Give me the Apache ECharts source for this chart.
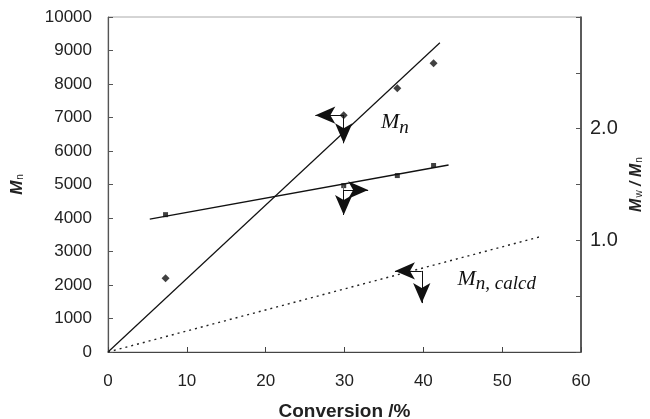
<!DOCTYPE html>
<html>
<head>
<meta charset="utf-8">
<script src="https://cdn.jsdelivr.net/npm/echarts@6/dist/echarts.min.js"></script>
<style>
  html, body { margin: 0; padding: 0; background: #fff; }
  #main { width: 650px; height: 419px; }
</style>
</head>
<body>
<div id="main"></div>
<script>
  // conversion (%) of the samples
  var conversion = [7.3, 29.9, 36.7, 41.3];
  // measured Mn (left axis)
  var mnValues = [2200, 7070, 7870, 8620];
  // measured Mw/Mn (right axis)
  var pdiValues = [1.23, 1.49, 1.58, 1.67];
  // fitted lines, endpoints [conversion, value]
  var mnFit = [[0, 0], [42.1, 9230]];
  var pdiFit = [[5.3, 1.19], [43.2, 1.675]];
  var mnCalcd = [[0, 0], [54.8, 3440]];
  var rightLabels = [1, 2];

  // annotation arrows, data coords: [from, to, hasHead]
  var mnArrows = [
    [[29.9, 7070], [26.3, 7070], true],
    [[29.9, 7070], [29.9, 6230], true]
  ];
  var pdiArrows = [
    [[29.9, 1.49], [29.9, 1.451], false],
    [[29.9, 1.451], [33.0, 1.451], true],
    [[29.9, 1.451], [29.9, 1.227], true]
  ];
  var calcdArrows = [
    [[39.8, 2420], [36.4, 2420], true],
    [[39.8, 2420], [39.8, 1460], true]
  ];

  function toMarkLines(list, connColor, connType) {
    return list.map(function (a) {
      return [
        {
          coord: a[0], symbol: 'none',
          lineStyle: a[2] ? { color: '#111', width: 1, type: 'solid' }
                          : { color: connColor, width: 1, type: connType }
        },
        { coord: a[1], symbol: a[2] ? 'arrow' : 'none' }
      ];
    });
  }

  var chartDom = document.getElementById('main');
  var myChart = echarts.init(chartDom);
  var labelFont = 'Liberation Sans, Arial, sans-serif';
  var serif = 'Liberation Serif, Times New Roman, serif';

  var arrowLine = {
    silent: true,
    animation: false,
    symbolSize: [13, 20],
    label: { show: false },
    lineStyle: { color: '#111', width: 1, type: 'solid' }
  };

  var option = {
    animation: false,
    grid: {
      left: 108, right: 69, top: 17, bottom: 67,
      outerBoundsMode: 'none', containLabel: false,
      show: true, borderColor: '#aaa', borderWidth: 1
    },
    xAxis: {
      type: 'value', min: 0, max: 60, interval: 10,
      name: 'Conversion /%',
      nameLocation: 'middle', nameGap: 50,
      nameTextStyle: { fontFamily: labelFont, fontSize: 19, fontWeight: 'bold', color: '#222' },
      axisLine: { lineStyle: { color: '#444', width: 1.2 } },
      axisTick: { inside: true, length: 5, lineStyle: { color: '#444' } },
      axisLabel: { margin: 21, fontFamily: labelFont, fontSize: 17, color: '#222' },
      splitLine: { show: false }
    },
    yAxis: [
      {
        type: 'value', min: 0, max: 10000, interval: 1000,
        name: '{m|M}{s|n}',
        nameLocation: 'middle', nameGap: 82, nameRotate: 90,
        nameTextStyle: {
          rich: {
            m: { fontFamily: labelFont, fontSize: 17, fontWeight: 'bold', fontStyle: 'italic', color: '#222' },
            s: { fontFamily: labelFont, fontSize: 10, color: '#222', padding: [6, 0, 0, 1] }
          }
        },
        axisLine: { show: true, lineStyle: { color: '#555', width: 1.2 } },
        axisTick: { inside: true, length: 5, lineStyle: { color: '#555' } },
        axisLabel: {
          margin: 16, fontFamily: labelFont, fontSize: 17, color: '#222',
          formatter: function (v) { return String(v); }
        },
        splitLine: { show: false }
      },
      {
        type: 'value', min: 0, max: 3, interval: 0.5, position: 'right',
        name: '{m|M}{s|w}{m| / M}{s|n}',
        nameLocation: 'middle', nameGap: 46, nameRotate: 90,
        nameTextStyle: {
          rich: {
            m: { fontFamily: labelFont, fontSize: 16, fontWeight: 'bold', fontStyle: 'italic', color: '#222' },
            s: { fontFamily: labelFont, fontSize: 10, color: '#222', padding: [6, 0, 0, 1] }
          }
        },
        axisLine: { show: true, lineStyle: { color: '#333', width: 1.5 } },
        axisTick: { inside: true, length: 5, lineStyle: { color: '#555' } },
        axisLabel: {
          margin: 9, fontFamily: labelFont, fontSize: 20, color: '#222',
          formatter: function (v) {
            return rightLabels.indexOf(v) >= 0 ? v.toFixed(1) : '';
          }
        },
        splitLine: { show: false }
      }
    ],
    series: [
      {
        name: 'Mn fit', type: 'line', yAxisIndex: 0, data: mnFit,
        showSymbol: false, silent: true,
        lineStyle: { color: '#111', width: 1.2 }
      },
      {
        name: 'Mw/Mn fit', type: 'line', yAxisIndex: 1, data: pdiFit,
        showSymbol: false, silent: true,
        lineStyle: { color: '#111', width: 1.4 },
        markLine: Object.assign({ data: toMarkLines(pdiArrows, '#666', 'solid') }, arrowLine)
      },
      {
        name: 'Mn calcd', type: 'line', yAxisIndex: 0, data: mnCalcd,
        showSymbol: false, silent: true,
        lineStyle: { color: '#222', width: 1.4, type: [2, 4] },
        markLine: Object.assign({ data: toMarkLines(calcdArrows, '#666', 'solid') }, arrowLine),
        markPoint: {
          silent: true, symbol: 'circle', symbolSize: 0,
          data: [{
            coord: [49.3, 2170],
            label: {
              show: true, formatter: '{m|M}{s|n, calcd}',
              rich: {
                m: { fontFamily: serif, fontSize: 22, fontStyle: 'italic', color: '#111' },
                s: { fontFamily: serif, fontSize: 19, fontStyle: 'italic', color: '#111', padding: [10, 0, 0, 0] }
              }
            }
          }]
        }
      },
      {
        name: 'Mn', type: 'scatter', yAxisIndex: 0,
        data: conversion.map(function (c, i) { return [c, mnValues[i]]; }),
        symbol: 'diamond', symbolSize: 8,
        itemStyle: { color: '#111' },
        markLine: Object.assign({ data: toMarkLines(mnArrows, '#bbb', 'dotted') }, arrowLine),
        markPoint: {
          silent: true, symbol: 'circle', symbolSize: 0,
          data: [{
            coord: [36.4, 6850],
            label: {
              show: true, formatter: '{m|M}{s|n}',
              rich: {
                m: { fontFamily: serif, fontSize: 22, fontStyle: 'italic', color: '#111' },
                s: { fontFamily: serif, fontSize: 19, fontStyle: 'italic', color: '#111', padding: [10, 0, 0, 0] }
              }
            }
          }]
        }
      },
      {
        name: 'Mw/Mn', type: 'scatter', yAxisIndex: 1,
        data: conversion.map(function (c, i) { return [c, pdiValues[i]]; }),
        symbol: 'rect', symbolSize: 5,
        itemStyle: { color: '#111' }
      }
    ]
  };

  option && myChart.setOption(option);
</script>
</body>
</html>
